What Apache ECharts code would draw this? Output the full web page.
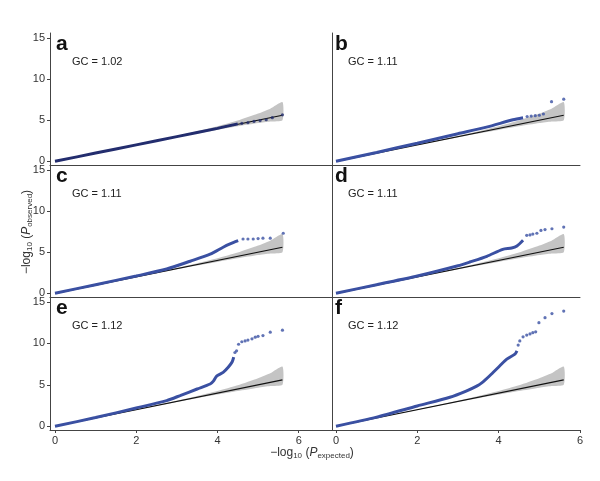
<!DOCTYPE html>
<html><head><meta charset="utf-8">
<script src="https://cdn.jsdelivr.net/npm/echarts@6/dist/echarts.min.js"></script>
<style>html,body{margin:0;padding:0;background:#fff}#c{width:600px;height:481px}</style>
</head><body><div id="c"></div>
<script>
// ---- data ----
const panelLetters = ['a', 'b', 'c', 'd', 'e', 'f'];
const gcLabels = ['GC = 1.02', 'GC = 1.11', 'GC = 1.11', 'GC = 1.11', 'GC = 1.12', 'GC = 1.12'];
const xTicks = [0, 2, 4, 6];
const yTicks = [0, 5, 10, 15];
const nullLine = [[0, 0], [5.6, 5.6]];
const bandX    = [0, 1, 2, 3, 3.5, 4, 4.5, 5, 5.3, 5.6];
const bandLow  = [0, 0.99, 1.97, 2.93, 3.38, 3.82, 4.25, 4.65, 4.85, 5.0];
const bandHigh = [0, 1.01, 2.03, 3.08, 3.65, 4.25, 4.95, 5.8, 6.4, 7.2];

const curveA = [[0, 0], [1, 1], [2, 2], [3, 3], [4, 4], [4.5, 4.55]];
const tailA  = [[4.6, 4.6], [4.75, 4.7], [4.9, 4.85], [5.05, 4.95], [5.2, 5.05], [5.35, 5.3], [5.6, 5.65]];
const curveB = [[0, 0], [1, 1.08], [2, 2.2], [3, 3.35], [3.7, 4.15], [4.35, 5.05], [4.6, 5.3]];
const tailB  = [[4.7, 5.45], [4.8, 5.5], [4.9, 5.55], [5.0, 5.6], [5.1, 5.75], [5.3, 7.25], [5.6, 7.55]];
const curveC = [[0, 0], [1, 1.05], [2, 2.1], [2.75, 2.95], [3.33, 3.9], [3.82, 4.75], [4.14, 5.6], [4.31, 6.0], [4.51, 6.4]];
const tailC  = [[4.63, 6.6], [4.75, 6.6], [4.88, 6.6], [5.0, 6.65], [5.12, 6.7], [5.3, 6.7], [5.62, 7.3]];
const curveD = [[0, 0], [1, 1.05], [2, 2.1], [3, 3.35], [3.29, 3.8], [3.71, 4.5], [4.1, 5.35], [4.32, 5.5], [4.45, 5.75], [4.6, 6.45]];
const tailD  = [[4.69, 7.05], [4.77, 7.1], [4.84, 7.2], [4.94, 7.3], [5.04, 7.65], [5.14, 7.75], [5.31, 7.85], [5.6, 8.05]];
const curveE = [[0, 0], [1, 1.05], [2, 2.2], [2.75, 3.1], [3.08, 3.7], [3.5, 4.5], [3.82, 5.1], [3.9, 5.45], [3.98, 6.05], [4.14, 6.5], [4.27, 7.15], [4.36, 7.75], [4.4, 8.35]];
const tailE  = [[4.43, 8.9], [4.47, 9.1], [4.52, 9.9], [4.6, 10.2], [4.68, 10.3], [4.75, 10.4], [4.85, 10.55], [4.93, 10.75], [5.0, 10.85], [5.12, 10.95], [5.3, 11.35], [5.6, 11.6]];
const curveF = [[0, 0], [1, 1.1], [2, 2.45], [2.8, 3.5], [3.2, 4.25], [3.46, 4.85], [3.6, 5.3], [3.78, 6.1], [4.03, 7.3], [4.2, 8.1], [4.4, 8.7], [4.45, 9.1]];
const tailF  = [[4.48, 9.8], [4.52, 10.3], [4.6, 10.8], [4.69, 11.0], [4.77, 11.15], [4.84, 11.3], [4.91, 11.4], [4.99, 12.5], [5.14, 13.1], [5.31, 13.6], [5.6, 13.9]];

const curves = [curveA, curveB, curveC, curveD, curveE, curveF];
const tails  = [tailA, tailB, tailC, tailD, tailE, tailF];

// ---- layout ----
const FONT = 'Liberation Sans, Arial, sans-serif';
const blue = '#3a50a2';
const navy = '#232d6e';
const tops = [33, 165, 297];
const heights = [132, 132, 133];
const cols = [{left: 50, width: 282, min: -0.123, max: 6.82}, {left: 332, width: 248, min: -0.098, max: 6.0}];

const grids = [], xAxes = [], yAxes = [], series = [], graphics = [];
for (let i = 0; i < 6; i++) {
  const r = Math.floor(i / 2), c = i % 2;
  const bottom = r === 2;
  grids.push({left: cols[c].left, width: cols[c].width, top: tops[r], height: heights[r]});
  xAxes.push({
    gridIndex: i, type: 'value', min: cols[c].min, max: cols[c].max,
    axisLine: {show: true, onZero: false, lineStyle: {color: '#444', width: 1}},
    axisTick: {show: bottom, customValues: xTicks, length: 3, lineStyle: {color: '#444'}},
    axisLabel: {show: bottom, customValues: xTicks, fontSize: 11, color: '#333', fontFamily: FONT, margin: 5, showMaxLabel: true},
    splitLine: {show: false}
  });
  yAxes.push({
    gridIndex: i, type: 'value', min: -0.45, max: 15.6,
    axisLine: {show: true, onZero: false, lineStyle: {color: '#444', width: 1}},
    axisTick: {show: c === 0, customValues: yTicks, length: 3, lineStyle: {color: '#444'}},
    axisLabel: {show: c === 0, customValues: yTicks, fontSize: 11, color: '#333', fontFamily: FONT, margin: 5},
    splitLine: {show: false}
  });
  series.push({
    type: 'custom', xAxisIndex: i, yAxisIndex: i, silent: true, z: 1,
    data: [[0, 0]],
    renderItem: function (params, api) {
      const pts = [];
      for (let k = 0; k < bandX.length; k++) pts.push(api.coord([bandX[k], bandHigh[k]]));
      for (let k = bandX.length - 1; k >= 0; k--) pts.push(api.coord([bandX[k], bandLow[k]]));
      return {type: 'polygon', shape: {points: pts, smooth: 0.2}, style: {fill: '#c4c4c4', stroke: null}};
    }
  });
  series.push({
    type: 'line', xAxisIndex: i, yAxisIndex: i, data: nullLine, showSymbol: false, silent: true, z: 2,
    lineStyle: {color: '#111', width: 1.2}
  });
  const col = i === 0 ? navy : blue;
  series.push({
    type: 'line', xAxisIndex: i, yAxisIndex: i, data: curves[i], showSymbol: false, silent: true, z: 3,
    smooth: 0.25, lineStyle: {color: col, width: 3}
  });
  series.push({
    type: 'scatter', xAxisIndex: i, yAxisIndex: i, data: tails[i], symbolSize: 3.2, silent: true, z: 3,
    itemStyle: {color: col}
  });
  const lx = c === 0 ? 56 : 335;
  const gx = c === 0 ? 72 : 348;
  graphics.push({type: 'text', left: lx, top: tops[r] + 1, style: {text: panelLetters[i], fontSize: 21, fontWeight: 'bold', fill: '#111', fontFamily: FONT}});
  graphics.push({type: 'text', left: gx, top: tops[r] + 23, style: {text: gcLabels[i], fontSize: 11, fill: '#222', fontFamily: FONT}});
}

const rich = {
  m: {fontSize: 12, fill: '#333', fontFamily: FONT},
  p: {fontSize: 12, fill: '#333', fontFamily: FONT, fontStyle: 'italic'},
  s: {fontSize: 8, fill: '#333', fontFamily: FONT, verticalAlign: 'bottom', padding: [6, 0, 0, 0]}
};
graphics.push({
  type: 'text', x: 312, y: 453,
  style: {text: '{m|\u2212log}{s|10}{m| (}{p|P}{s|expected}{m|)}', rich: rich, align: 'center', verticalAlign: 'middle', fill: '#333'}
});
graphics.push({
  type: 'text', x: 27, y: 232, rotation: Math.PI / 2,
  style: {text: '{m|\u2212log}{s|10}{m| (}{p|P}{s|observed}{m|)}', rich: rich, align: 'center', verticalAlign: 'middle', fill: '#333'}
});

const chart = echarts.init(document.getElementById('c'), null, {renderer: 'canvas'});
chart.setOption({
  animation: false,
  backgroundColor: '#fff',
  grid: grids, xAxis: xAxes, yAxis: yAxes, series: series, graphic: graphics
});
</script>
</body></html>
